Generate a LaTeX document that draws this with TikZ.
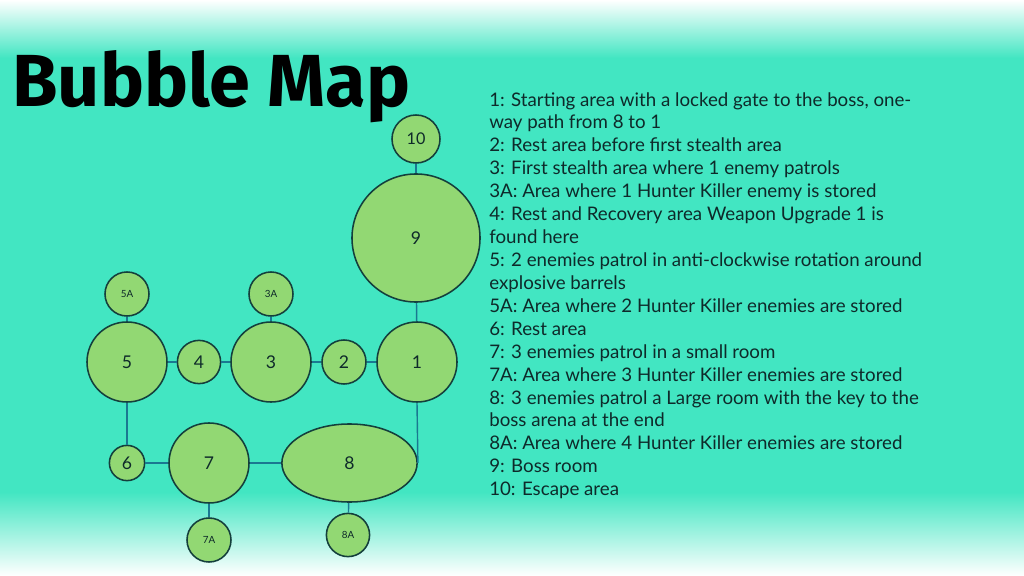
\documentclass[tikz,border=0pt]{standalone}
\usepackage{fontspec}
\usepackage{graphicx}
\setmainfont{Lato}
\newfontfamily\titlefont{Fira Sans}
\usetikzlibrary{shapes.geometric}
\definecolor{bgteal}{HTML}{42E6C2}
\definecolor{roomgreen}{HTML}{92D873}
\definecolor{roomline}{HTML}{143F3C}
\definecolor{linkblue}{HTML}{1A7891}
\definecolor{listtext}{HTML}{0E2A2A}
\begin{document}
\begin{tikzpicture}[x=0.025cm, y=-0.025cm,
    room/.style={circle, draw=roomline, fill=roomgreen, line width=1.1pt, inner sep=0pt,
      text=listtext, font=\fontsize{12.5}{14}\selectfont},
    smallroom/.style={room, font=\fontsize{7}{8}\selectfont},
    link/.style={draw=linkblue, line width=1pt}]
    % Background
    \useasboundingbox (0,0) rectangle (1024,576);
    \fill[bgteal] (0,0) rectangle (1024,576);
    \shade[top color=white, bottom color=bgteal] (0,0) rectangle (1024,58);
    \shade[top color=bgteal, bottom color=white] (0,492) rectangle (1024,576);

    % Title
    \node[anchor=base west, inner sep=0pt] (title) at (12,107)
      {\resizebox{9.95cm}{!}{\titlefont\bfseries Bubble Map}};

    % Rooms (top column)
    \node[room, minimum size=1.2cm, font=\fontsize{11.5}{13}\selectfont] (r10) at (416,139) {10};
    \node[room, minimum size=3.2cm] (r9) at (416,238) {9};

    % Rooms (middle row)
    \node[room, minimum size=2cm] (r1) at (417,362) {1};
    \node[room, minimum size=1.1cm] (r2) at (344,362) {2};
    \node[room, minimum size=2cm] (r3) at (271,362) {3};
    \node[room, minimum size=1.08cm] (r4) at (199,362) {4};
    \node[room, minimum size=2cm] (r5) at (127,362) {5};
    \node[smallroom, minimum size=1.1cm] (r3a) at (271,294) {3A};
    \node[smallroom, minimum size=1.1cm] (r5a) at (127,294) {5A};

    % Rooms (bottom row)
    \node[room, minimum size=0.88cm] (r6) at (127,463) {6};
    \node[room, minimum size=2cm] (r7) at (209,463) {7};
    \node[room, ellipse, minimum width=3.38cm, minimum height=1.95cm] (r8) at (349.5,463) {8};
    \node[smallroom, minimum size=1.1cm] (r7a) at (209,540) {7A};
    \node[smallroom, minimum size=1.08cm] (r8a) at (348,535) {8A};

    % Connections
    \draw[link] (r10) -- (r9);
    \draw[link] (r9) -- (r1);
    \draw[link] (r1) -- (r2);
    \draw[link] (r2) -- (r3);
    \draw[link] (r3) -- (r4);
    \draw[link] (r4) -- (r5);
    \draw[link] (r3a) -- (r3);
    \draw[link] (r5a) -- (r5);
    \draw[link] (r5) -- (r6);
    \draw[link] (r6) -- (r7);
    \draw[link] (r7) -- (r8);
    \draw[link] (r7) -- (r7a);
    \draw[link] (r8) -- (r8a);
    \draw[link] (r1.south) -- (r8.east);

    % Key
    \node[anchor=north west, align=left, inner sep=0pt, text=listtext,
      font=\fontsize{13.3}{16.3}\selectfont] (key) at (489,92)
      {1: Starting area with a locked gate to the boss, one-\\
       way path from 8 to 1\\
       2: Rest area before first stealth area\\
       3: First stealth area where 1 enemy patrols\\
       3A: Area where 1 Hunter Killer enemy is stored\\
       4: Rest and Recovery area Weapon Upgrade 1 is\\
       found here\\
       5: 2 enemies patrol in anti-clockwise rotation around\\
       explosive barrels\\
       5A: Area where 2 Hunter Killer enemies are stored\\
       6: Rest area\\
       7: 3 enemies patrol in a small room\\
       7A: Area where 3 Hunter Killer enemies are stored\\
       8: 3 enemies patrol a Large room with the key to the\\
       boss arena at the end\\
       8A: Area where 4 Hunter Killer enemies are stored\\
       9: Boss room\\
       10: Escape area};
\end{tikzpicture}
\end{document}
